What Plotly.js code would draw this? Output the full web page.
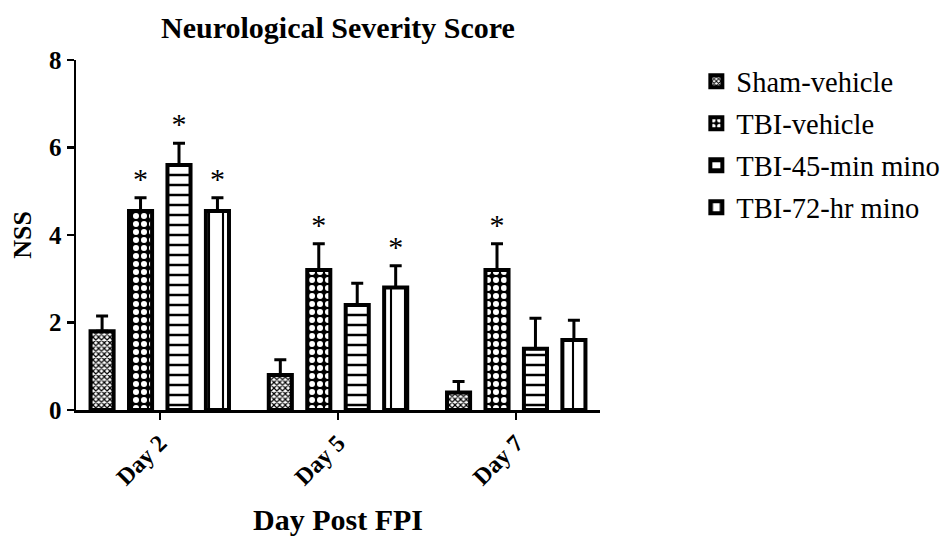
<!DOCTYPE html>
<html><head><meta charset="utf-8">
<script src="https://cdn.plot.ly/plotly-3.0.1.min.js"></script>
<style>html,body{margin:0;padding:0;background:#fff}</style>
</head><body>
<div id="chart" style="width:950px;height:540px"></div>
<script>
const categories = ["Day 2", "Day 5", "Day 7"];
const seriesNames = ["Sham-vehicle", "TBI-vehicle", "TBI-45-min mino", "TBI-72-hr mino"];
const shamMean = [1.8, 0.8, 0.4];
const shamErr = [0.35, 0.35, 0.25];
const tbiVehMean = [4.55, 3.2, 3.2];
const tbiVehErr = [0.3, 0.6, 0.6];
const mino45Mean = [5.6, 2.4, 1.4];
const mino45Err = [0.5, 0.5, 0.7];
const mino72Mean = [4.55, 2.8, 1.6];
const mino72Err = [0.3, 0.5, 0.45];
const shamSig = ["", "", ""];
const tbiVehSig = ["*", "*", "*"];
const mino45Sig = ["*", "", ""];
const mino72Sig = ["*", "*", ""];

const means = [shamMean, tbiVehMean, mino45Mean, mino72Mean];
const errs = [shamErr, tbiVehErr, mino45Err, mino72Err];
const sigs = [shamSig, tbiVehSig, mino45Sig, mino72Sig];
const patterns = [
  {shape: "x", fgcolor: "black", bgcolor: "white", size: 4, solidity: 0.5, fillmode: "replace"},
  {shape: ".", fgcolor: "white", bgcolor: "black", size: 8, solidity: 0.45, fillmode: "replace"},
  {shape: "-", fgcolor: "black", bgcolor: "white", size: 10, solidity: 0.25, fillmode: "replace"},
  {shape: "|", fgcolor: "black", bgcolor: "white", size: 14, solidity: 0.15, fillmode: "replace"}
];
const serif = "Liberation Serif, Times New Roman, serif";

const traces = [];
for (let i = 0; i < 4; i++) {
  traces.push({
    type: "bar", x: categories, y: means[i], name: seriesNames[i],
    offsetgroup: String(i), legendgroup: String(i),
    marker: {color: "white", line: {color: "black", width: 4}, pattern: patterns[i]},
    error_y: {type: "data", symmetric: false, array: errs[i], arrayminus: [0,0,0],
      color: "black", thickness: 3, width: 6},
    hoverinfo: "skip"
  });
}
for (let i = 0; i < 4; i++) {
  traces.push({
    type: "bar", x: categories, y: means[i].map((m, k) => m + errs[i][k]),
    offsetgroup: String(i), showlegend: false,
    marker: {color: "rgba(0,0,0,0)", line: {width: 0}},
    text: sigs[i], textposition: "outside", cliponaxis: false,
    textfont: {family: serif, size: 30, color: "black"},
    hoverinfo: "skip"
  });
}

const layout = {
  width: 950, height: 540,
  margin: {l: 76, r: 350, t: 60, b: 130},
  paper_bgcolor: "white", plot_bgcolor: "white",
  barmode: "group", bargap: 0.137, bargroupgap: 0.4,
  showlegend: true,
  title: {text: "<b>Neurological Severity Score</b>", x: 0.5, xref: "paper", xanchor: "center",
    y: 0.95, yref: "container", yanchor: "middle", font: {family: serif, size: 30, color: "black"}},
  xaxis: {range: [-0.47, 2.47], showline: true, linecolor: "black", linewidth: 2.5,
    ticks: "outside", ticklen: 7, tickwidth: 2.5, tickcolor: "black", tickangle: -45,
    tickfont: {family: serif, size: 24, color: "black", weight: "bold"},
    showgrid: false, zeroline: false,
    title: {text: "<b>Day Post FPI</b>", font: {family: serif, size: 30, color: "black"}, standoff: 20}},
  yaxis: {range: [0, 8], tickvals: [0, 2, 4, 6, 8], showline: true, linecolor: "black", linewidth: 2.5,
    ticks: "outside", ticklen: 7, tickwidth: 2.5, tickcolor: "black",
    tickfont: {family: serif, size: 25, color: "black", weight: "bold"},
    showgrid: false, zeroline: false,
    title: {text: "<b>NSS</b>", font: {family: serif, size: 26, color: "black"}, standoff: 10}},
  legend: {xref: "container", yref: "container", x: 0.733, xanchor: "left", y: 0.896, yanchor: "top",
    traceorder: "grouped", tracegroupgap: 2,
    font: {family: serif, size: 28.5, color: "black"}, bgcolor: "rgba(0,0,0,0)"}
};
Plotly.newPlot("chart", traces, layout, {displayModeBar: false, staticPlot: true});
</script>
</body></html>
